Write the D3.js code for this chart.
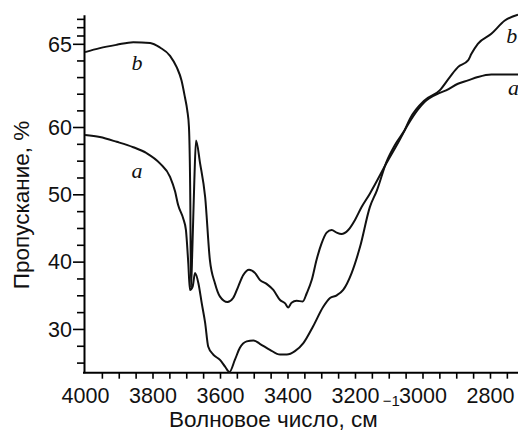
<!DOCTYPE html>
<html>
<head>
<meta charset="utf-8">
<script src="https://cdn.jsdelivr.net/npm/d3@7"></script>
<style>
  body { margin: 0; background: #fff; }
  svg text { font-family: "Liberation Sans", Arial, sans-serif; fill: #111; }
  svg text.lbl { font-family: "Liberation Serif", "Times New Roman", serif; font-style: italic; }
</style>
</head>
<body>
<div id="chart"></div>
<script>
// wavenumber (cm-1), transmission (%)
const curveA = [
  [4000, 58.8], [3956, 58.5], [3906, 57.8], [3857, 57.0], [3817, 56.1], [3778, 54.6],
  [3748, 52.6], [3733, 50.4], [3724, 48.4], [3709, 46.4], [3701, 44.7], [3694, 39.8],
  [3689, 35.8], [3681, 36.3], [3674, 38.3], [3664, 36.8], [3654, 33.8], [3644, 30.9],
  [3635, 27.4], [3620, 26.2], [3600, 25.4], [3585, 24.4], [3572, 23.6], [3556, 25.4],
  [3541, 27.2], [3521, 28.15], [3501, 28.3], [3482, 27.8], [3452, 26.9], [3422, 26.2],
  [3402, 26.2], [3378, 26.7], [3353, 27.9], [3324, 30.4], [3294, 33.3], [3274, 34.6],
  [3254, 35.0], [3235, 35.8], [3210, 38.3], [3185, 42.2], [3156, 48.1], [3135, 50.6],
  [3107, 54.8], [3082, 57.3], [3053, 59.5], [3037, 60.35], [2994, 61.5], [2949, 62.05],
  [2930, 62.2], [2895, 62.6], [2865, 62.8], [2836, 63.0], [2796, 63.15], [2717, 63.15]
];
const curveB = [
  [4000, 64.5], [3956, 64.74], [3906, 64.94], [3857, 65.1], [3807, 65.05], [3778, 64.78],
  [3748, 64.28], [3728, 63.58], [3714, 62.8], [3704, 61.8], [3697, 61.0], [3692, 60.0],
  [3688, 49.1], [3686, 36.1], [3682, 41.7], [3676, 52.1], [3671, 58.0], [3659, 54.6],
  [3644, 49.6], [3630, 40.25], [3615, 36.8], [3600, 34.8], [3578, 34.0], [3561, 34.6],
  [3546, 36.3], [3531, 38.0], [3514, 38.8], [3496, 38.3], [3482, 37.3], [3462, 36.7],
  [3442, 35.8], [3422, 34.3], [3407, 33.8], [3398, 33.2], [3388, 33.9], [3373, 34.2],
  [3355, 34.07], [3343, 35.3], [3328, 37.3], [3314, 40.25], [3299, 42.7], [3284, 44.3],
  [3269, 44.7], [3254, 44.3], [3240, 44.1], [3220, 44.7], [3200, 46.2], [3180, 48.15],
  [3156, 50.1], [3107, 54.6], [3053, 59.5], [3037, 60.5], [2994, 61.6], [2949, 62.2],
  [2919, 63.0], [2895, 63.6], [2865, 64.0], [2855, 64.4], [2836, 65.0], [2796, 65.6],
  [2756, 66.4], [2717, 66.75]
];
const xMajor = [4000, 3800, 3600, 3400, 3200, 3000, 2800];
const xMinor = d3.range(3950, 2700, -50);
const yMajor = [30, 40, 50, 60, 65];
const yMinor = [25, 27.5, 32.5, 35, 37.5, 42.5, 45, 47.5, 52.5, 55, 57.5, 61, 62, 63, 64, 65.5, 66, 66.5];
const labels = [
  { text: "b", w: 3862, v: 63.4 }, { text: "a", w: 3862, v: 52.36 },
  { text: "b", w: 2752, v: 65.03 }, { text: "a", w: 2747, v: 61.92 }
];

const width = 518, height = 435;
const mLeft = 85, mRight = 518, mTop = 14.7, mBottom = 372.7;

const svg = d3.select("#chart").append("svg")
  .attr("width", width).attr("height", height)
  .attr("viewBox", [0, 0, width, height]);

const x = d3.scaleLinear().domain([4000, 2717]).range([mLeft, mRight]);
// the original axis is stretched above 60 %
const y = d3.scaleLinear().domain([23.5, 60, 66.75]).range([mBottom, 127, mTop]);

svg.append("g")
  .attr("transform", `translate(${mLeft - 1},0)`)
  .call(d3.axisLeft(y).tickValues(yMinor).tickSize(7).tickSizeOuter(0).tickFormat(""))
  .call(g => g.select(".domain").remove())
  .call(g => g.selectAll("line").attr("stroke-width", 1.6));

svg.append("g")
  .attr("transform", `translate(${mLeft - 1},0)`)
  .call(d3.axisLeft(y).tickValues(yMajor).tickSize(11).tickSizeOuter(0).tickPadding(1))
  .call(g => g.select(".domain").attr("stroke-width", 2))
  .call(g => g.selectAll("line").attr("stroke-width", 1.6))
  .call(g => g.selectAll("text").attr("font-size", 21.5).attr("dy", "0.34em"));

svg.append("g")
  .attr("transform", `translate(0,${mBottom})`)
  .call(d3.axisBottom(x).tickValues(xMinor).tickSize(6).tickSizeOuter(0).tickFormat(""))
  .call(g => g.select(".domain").attr("stroke-width", 2)
    .attr("d", `M${mLeft - 2},0H${width + 2}`))
  .call(g => g.selectAll("line").attr("stroke-width", 1.6));

svg.append("g")
  .attr("transform", `translate(0,${mBottom})`)
  .call(d3.axisBottom(x).tickValues(xMajor).tickSize(0).tickPadding(15).tickFormat(d3.format("d")))
  .call(g => g.select(".domain").remove())
  .call(g => g.selectAll("text").attr("font-size", 21.5));

const line = d3.line()
  .x(d => x(d[0]))
  .y(d => y(d[1]))
  .curve(d3.curveMonotoneX);

for (let c of [curveA, curveB]) {
  svg.append("path")
    .datum(c)
    .attr("fill", "none")
    .attr("stroke", "#111")
    .attr("stroke-width", 2)
    .attr("stroke-linejoin", "round")
    .attr("d", line);
}

svg.selectAll(".lbl")
  .data(labels)
  .join("text")
  .attr("class", "lbl")
  .attr("x", d => x(d.w))
  .attr("y", d => y(d.v))
  .attr("font-size", 22)
  .text(d => d.text);

svg.append("text")
  .attr("transform", "translate(29,205) rotate(-90)")
  .attr("text-anchor", "middle")
  .attr("font-size", 22.5)
  .text("Пропускание, %");

const xt = svg.append("text")
  .attr("x", 169)
  .attr("y", 427)
  .attr("font-size", 22.5);
xt.append("tspan").text("Волновое число, см");
xt.append("tspan").attr("dy", -21).attr("dx", 5).attr("font-size", 15).text("−1");
</script>
</body>
</html>
